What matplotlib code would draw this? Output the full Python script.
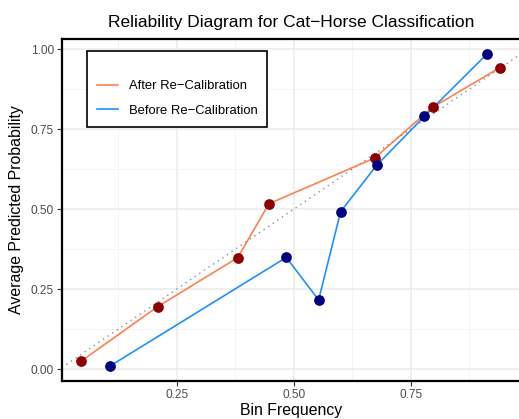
import matplotlib.pyplot as plt
from matplotlib.lines import Line2D
from matplotlib.ticker import MultipleLocator

plt.rcParams["font.family"] = ["Liberation Sans", "DejaVu Sans"]

# Calibration curves: bin frequency vs. average predicted probability
after_freq = [0.046, 0.209, 0.380, 0.447, 0.673, 0.797, 0.940]
after_prob = [0.025, 0.195, 0.348, 0.517, 0.660, 0.819, 0.942]
before_freq = [0.108, 0.484, 0.553, 0.600, 0.677, 0.779, 0.912]
before_prob = [0.010, 0.349, 0.216, 0.492, 0.637, 0.790, 0.984]

tick_values = [0.00, 0.25, 0.50, 0.75, 1.00]
tick_labels = ["0.00", "0.25", "0.50", "0.75", "1.00"]

AFTER_LINE, AFTER_PT = "#FF7F50", "#8B0000"
BEFORE_LINE, BEFORE_PT = "#1E90FF", "#000080"

W, H = 519, 419
fig = plt.figure(figsize=(W / 100, H / 100), dpi=100)
# panel runs just past the right edge of the canvas
ax = fig.add_axes([61.7 / W, 38 / H, 458.6 / W, 342 / H])
ax.set_xlim(0.004, 0.984)
ax.set_ylim(-0.0375, 1.032)

ax.set_xticks(tick_values[1:4])
ax.set_xticklabels(tick_labels[1:4])
ax.set_yticks(tick_values)
ax.set_yticklabels(tick_labels)
ax.xaxis.set_minor_locator(MultipleLocator(0.125))
ax.yaxis.set_minor_locator(MultipleLocator(0.125))
ax.grid(which="major", color="#EBEBEB", linewidth=1.1, zorder=0)
ax.grid(which="minor", color="#F2F2F2", linewidth=0.6, zorder=0)
ax.tick_params(which="major", length=3.5, width=0.8, color="#333333",
               labelsize=8.6, labelcolor="#4D4D4D", pad=2)
ax.tick_params(which="minor", length=0)
ax.set_axisbelow(True)
for side in ax.spines.values():
    side.set_linewidth(1.6)
    side.set_color("black")

# perfect calibration reference
ax.axline((0, 0), slope=1, color="#8C8C8C", linestyle=(0, (1, 3)), linewidth=1.0, zorder=1)

ax.plot(after_freq, after_prob, color=AFTER_LINE, linewidth=1.2, zorder=2)
ax.plot(before_freq, before_prob, color=BEFORE_LINE, linewidth=1.2, zorder=2)
ax.plot(after_freq, after_prob, "o", color=AFTER_PT, markersize=6.7, zorder=3)
ax.plot(before_freq, before_prob, "o", color=BEFORE_PT, markersize=6.7, zorder=4)

handles = [Line2D([], [], color=AFTER_LINE, linewidth=1.2),
           Line2D([], [], color=BEFORE_LINE, linewidth=1.2)]
leg = ax.legend(handles, ["After Re\u2212Calibration", "Before Re\u2212Calibration"],
                loc="upper left", bbox_to_anchor=(0.0552, 0.965), borderaxespad=0,
                title=" ", title_fontsize=6, fontsize=9.4, frameon=True, fancybox=False,
                edgecolor="black", framealpha=1, borderpad=0.75, handlelength=1.6,
                handletextpad=0.85, labelspacing=0.95)
leg.get_frame().set_linewidth(1.2)

ax.set_title("Reliability Diagram for Cat\u2212Horse Classification", fontsize=12.5, pad=9)
ax.set_xlabel("Bin Frequency", fontsize=11.4, labelpad=2)
ax.set_ylabel("Average Predicted Probability", fontsize=11.4, labelpad=5)

fig.savefig("out.png", dpi=100)
